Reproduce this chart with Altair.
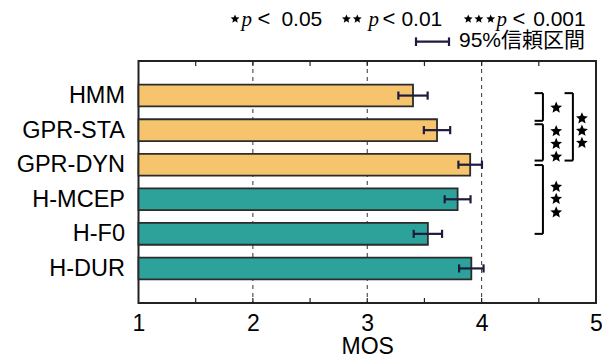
import json
import altair as alt
import pandas as pd

# ---------------- data ----------------
methods = ["HMM", "GPR-STA", "GPR-DYN", "H-MCEP", "H-F0", "H-DUR"]
mos = [3.40, 3.61, 3.90, 3.79, 3.53, 3.91]
ci95 = [0.128, 0.115, 0.103, 0.113, 0.124, 0.107]
groups = ["baseline", "baseline", "baseline", "proposed", "proposed", "proposed"]

x_ticks = [1, 2, 3, 4, 5]
minor_ticks = [1.5, 2, 2.5, 3, 3.5, 4, 4.5]
grid_lines = [2, 3, 4]

# significance brackets (y in row units, x in MOS units)
bracket_top = [0.93, 1.83, 0.93, 3.01]
bracket_bottom = [1.73, 2.88, 2.88, 5.00]
bracket_x = [4.536, 4.536, 4.798, 4.536]
bracket_arm = 0.073
star_x = [4.652, 4.652, 4.652, 4.652, 4.652, 4.652, 4.652, 4.877, 4.877, 4.877]
star_y = [1.35, 2.03, 2.40, 2.77, 3.64, 3.99, 4.38, 1.66, 2.02, 2.37]

# legend stars (data units)
legend_star_x = [1.844, 2.818, 2.913, 3.883, 3.976, 4.079]
legend_star_y = [-1.215] * 6

# ---------------- tables ----------------
n = len(methods)
bars = pd.DataFrame({
    "method": methods,
    "idx": list(range(1, n + 1)),
    "mos": mos,
    "ci": ci95,
    "group": groups,
})
bars["base"] = 1.0
bars["y0"] = bars["idx"] - 0.315
bars["y1"] = bars["idx"] + 0.315
bars["lo"] = bars["mos"] - bars["ci"]
bars["hi"] = bars["mos"] + bars["ci"]
bars["c0"] = bars["idx"] - 0.118
bars["c1"] = bars["idx"] + 0.118

segs = []
for t, b, bx in zip(bracket_top, bracket_bottom, bracket_x):
    segs.append(dict(x=bx, x2=bx, y=t, y2=b))
    segs.append(dict(x=bx - bracket_arm, x2=bx, y=t, y2=t))
    segs.append(dict(x=bx - bracket_arm, x2=bx, y=b, y2=b))
segs = pd.DataFrame(segs)

plot_stars = pd.DataFrame({"x": star_x, "y": star_y})
leg_stars = pd.DataFrame({"x": legend_star_x, "y": legend_star_y})

ticks = []
for v in minor_ticks:
    ticks.append(dict(x=v, y=0.0, y2=0.145))
    ticks.append(dict(x=v, y=7.0, y2=6.855))
ticks = pd.DataFrame(ticks)
grid = pd.DataFrame({"x": grid_lines, "y": [0.0] * 3, "y2": [7.0] * 3})

# ---------------- scales / axes ----------------
FONT = "Liberation Sans, Noto Sans CJK JP"
xs = alt.Scale(domain=[1, 5], nice=False, zero=False)
ys = alt.Scale(domain=[0, 7], reverse=True, nice=False, zero=False)
label_expr = json.dumps([""] + methods) + "[datum.value]"
xaxis = alt.Axis(values=x_ticks, title="MOS", grid=False, ticks=False, domain=False,
                 labelFontSize=23, labelFont=FONT, labelColor="black", labelPadding=9,
                 labelFlush=False, format="d",
                 titleFontSize=23, titleFont=FONT, titleFontWeight="normal",
                 titleColor="black", titlePadding=0)
yaxis = alt.Axis(values=list(range(1, n + 1)), labelExpr=label_expr, title=None,
                 grid=False, ticks=False, domain=False, labelFontSize=23.5,
                 labelFont=FONT, labelColor="black", labelPadding=14)


def X(f):
    return alt.X(f, type="quantitative", scale=xs, axis=xaxis)


def Y(f):
    return alt.Y(f, type="quantitative", scale=ys, axis=yaxis)


grid_layer = alt.Chart(grid).mark_rule(color="#333333", strokeWidth=1, strokeDash=[4, 4]).encode(
    x=X("x"), y=Y("y"), y2="y2")
tick_layer = alt.Chart(ticks).mark_rule(color="#222222", strokeWidth=1.2).encode(
    x=X("x"), y=Y("y"), y2="y2")

bar_layer = alt.Chart(bars).mark_rect(stroke="#2b2b2b", strokeWidth=1.8).encode(
    x=X("base"), x2="mos", y=Y("y0"), y2="y1",
    fill=alt.Fill("group:N", scale=alt.Scale(domain=["baseline", "proposed"],
                                             range=["#F5C46C", "#2CA29A"]), legend=None))
err_line = alt.Chart(bars).mark_rule(color="#1c1c3e", strokeWidth=2.2).encode(
    x=X("lo"), x2="hi", y=Y("idx"))
cap_lo = alt.Chart(bars).mark_rule(color="#1c1c3e", strokeWidth=2.2).encode(
    x=X("lo"), y=Y("c0"), y2="c1")
cap_hi = alt.Chart(bars).mark_rule(color="#1c1c3e", strokeWidth=2.2).encode(
    x=X("hi"), y=Y("c0"), y2="c1")

bracket_layer = alt.Chart(segs).mark_rule(color="black", strokeWidth=2).encode(
    x=X("x"), x2="x2", y=Y("y"), y2="y2")

STAR = ("M0,-1 L0.264,-0.364 L0.951,-0.309 L0.428,0.139 L0.588,0.809 L0,0.45 "
        "L-0.588,0.809 L-0.428,0.139 L-0.951,-0.309 L-0.264,-0.364 Z")
star_layer = alt.Chart(plot_stars).mark_point(shape=STAR, filled=True, color="black", opacity=1,
                                              strokeWidth=0, size=155).encode(
    x=X("x"), y=Y("y"))
leg_star_layer = alt.Chart(leg_stars).mark_point(shape=STAR, filled=True, color="black", opacity=1,
                                                 strokeWidth=0, size=85).encode(
    x=X("x"), y=Y("y"))

one = pd.DataFrame({"k": [0]})


def txt(s, x, y, size=21, font=FONT, style="normal", align="left"):
    return alt.Chart(one).mark_text(text=s, font=font, fontSize=size, fontStyle=style,
                                    align=align, baseline="alphabetic", color="black").encode(
        x=alt.value(x), y=alt.value(y))


legend_layers = [
    txt("p", 103.0, -35, size=21, font="Liberation Serif", style="italic"),
    txt("p", 230.0, -35, size=21, font="Liberation Serif", style="italic"),
    txt("p", 358.0, -35, size=21, font="Liberation Serif", style="italic"),
    txt("<", 119.0, -35, size=22),
    txt("<", 244.0, -35, size=22),
    txt("<", 374.0, -35, size=22),
    txt("0.05", 183.8, -35, align="right"),
    txt("0.01", 303.8, -35, align="right"),
    txt("0.001", 447.2, -35, align="right"),
    txt("95%信頼区間", 446.5, -14, align="right"),
]
leg_err = [
    alt.Chart(one).mark_rule(color="#1c1c3e", strokeWidth=2.2).encode(
        x=alt.value(277.5), x2=alt.value(310.5), y=alt.value(-19.3)),
    alt.Chart(one).mark_rule(color="#1c1c3e", strokeWidth=2.2).encode(
        x=alt.value(277.5), y=alt.value(-23.6), y2=alt.value(-15)),
    alt.Chart(one).mark_rule(color="#1c1c3e", strokeWidth=2.2).encode(
        x=alt.value(310.5), y=alt.value(-23.6), y2=alt.value(-15)),
]

chart = alt.layer(grid_layer, tick_layer, bar_layer, err_line, cap_lo, cap_hi,
                  bracket_layer, star_layer, leg_star_layer, *legend_layers, *leg_err).properties(
    width=457.5, height=242,
    autosize=alt.AutoSizeParams(type="none"),
    padding={"left": 130.5, "top": 53, "right": 6, "bottom": 56},
    background="white",
).configure_view(stroke="#222222", strokeWidth=2)

chart.save("out.html", embed_options={"renderer": "svg", "actions": False})
